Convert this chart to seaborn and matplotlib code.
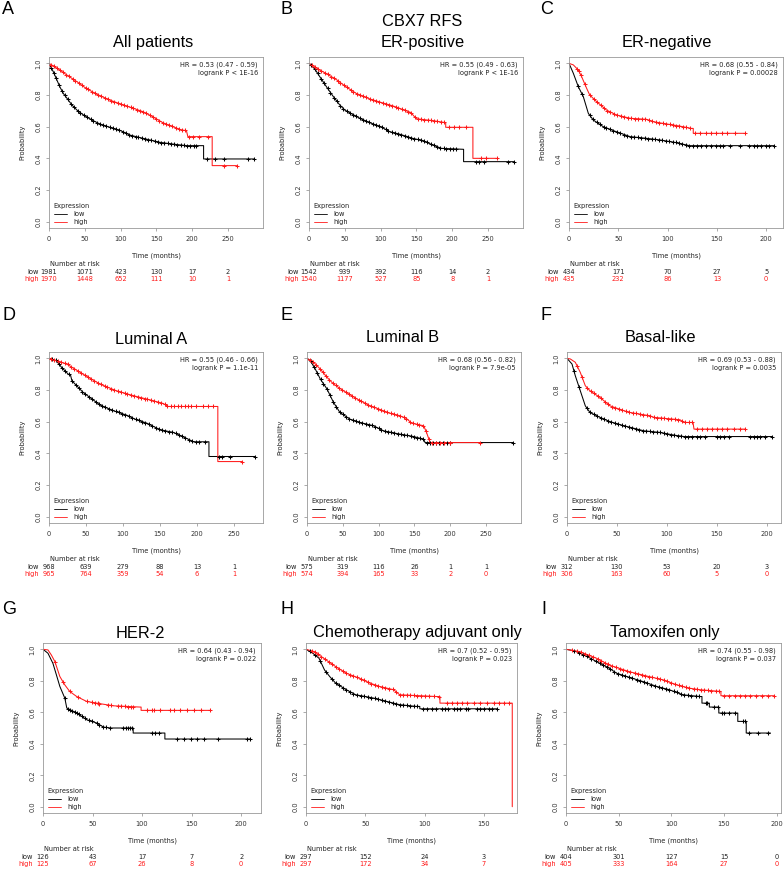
import numpy as np
import matplotlib
matplotlib.use("Agg")
import matplotlib.pyplot as plt
import matplotlib.transforms as mtransforms
from matplotlib.lines import Line2D
import seaborn as sns

# ---------------- data ----------------
TICKS_250 = [0, 50, 100, 150, 200, 250]
TICKS_200 = [0, 50, 100, 150, 200]
TICKS_150 = [0, 50, 100, 150]
Y_TICKS = [0.0, 0.2, 0.4, 0.6, 0.8, 1.0]
Y_TICK_LABELS = ["0.0", "0.2", "0.4", "0.6", "0.8", "1.0"]

# A: All patients
A_low_t = [0, 6, 11, 15, 20, 25, 32, 39, 48, 60, 71, 85, 100, 113, 127, 141, 155, 173, 192, 216, 216, 287]
A_low_s = [1, .947, .895, .853, .81, .78, .737, .705, .674, .642, .617, .596, .575, .547, .531, .516, .501, .49, .48, .48, .396, .396]
A_low_cens = [3, 7, 10, 14, 18, 22, 26, 31, 35, 40, 44, 49, 53, 58, 62, 67, 71, 76, 80, 85, 89, 94, 98, 103, 107, 112, 116,
              121, 125, 130, 134, 139, 143, 148, 152, 157, 161, 166, 170, 175, 179, 184, 188, 193, 197, 202, 206, 221, 232, 245, 278, 287]
A_high_t = [0, 15, 25, 39, 50, 66, 85, 100, 118, 131, 145, 159, 173, 185, 192, 194, 228, 228, 262]
A_high_s = [1, .958, .926, .884, .848, .806, .768, .743, .716, .695, .663, .625, .6, .579, .575, .537, .537, .354, .354]
A_high_cens = [3, 7, 11, 15, 19, 24, 28, 33, 37, 42, 46, 51, 55, 60, 64, 69, 73, 78, 82, 87, 91, 96, 100, 105, 109, 114, 118,
               123, 127, 132, 136, 141, 145, 150, 154, 159, 163, 168, 172, 177, 181, 186, 190, 196, 201, 210, 222, 245, 262]
A_risk_low = [1981, 1071, 423, 130, 17, 2]
A_risk_high = [1970, 1448, 652, 111, 10, 1]
A_hr = ["HR = 0.53 (0.47 - 0.59)", "logrank P < 1E-16"]

# B: ER-positive
B_low_t = [0, 8, 15, 25, 34, 43, 50, 71, 85, 100, 113, 127, 145, 159, 173, 185, 216, 216, 287]
B_low_s = [1, .965, .916, .848, .79, .737, .705, .653, .625, .6, .568, .552, .526, .512, .484, .463, .457, .379, .379]
B_low_cens = [3, 8, 12, 17, 21, 26, 30, 35, 39, 44, 48, 53, 57, 62, 66, 71, 75, 80, 84, 89, 93, 98, 102, 107, 111, 116, 120,
              125, 129, 134, 138, 143, 147, 152, 156, 161, 165, 170, 174, 179, 183, 188, 192, 197, 201, 206, 233, 237, 245, 278, 287]
B_high_t = [0, 15, 25, 39, 50, 66, 85, 100, 118, 136, 142, 150, 173, 191, 191, 229, 229, 262]
B_high_s = [1, .958, .933, .895, .857, .81, .775, .754, .73, .70, .69, .65, .638, .625, .596, .596, .4, .4]
B_high_cens = [4, 8, 13, 17, 22, 26, 31, 35, 40, 44, 49, 53, 58, 62, 67, 71, 76, 80, 85, 89, 94, 98, 103, 107, 112, 116, 121,
               125, 130, 134, 139, 143, 148, 152, 157, 161, 166, 170, 175, 179, 184, 188, 196, 202, 209, 220, 240, 248, 262]
B_risk_low = [1542, 939, 392, 116, 14, 2]
B_risk_high = [1540, 1177, 527, 85, 8, 1]
B_hr = ["HR = 0.55 (0.49 - 0.63)", "logrank P < 1E-16"]

# C: ER-negative
C_low_t = [0, 4.4, 9.4, 14.5, 19.6, 24.6, 34.7, 48, 62, 79, 92, 109, 122, 208]
C_low_s = [1, .937, .853, .79, .684, .642, .6, .568, .537, .526, .516, .499, .48, .48]
C_low_cens = [9, 13, 21, 24, 28, 31, 35, 38, 42, 45, 49, 52, 56, 59, 63, 66, 70, 73, 77, 80, 84, 87, 91, 94, 98, 101, 105,
              108, 112, 115, 119, 122, 126, 130, 134, 139, 144, 149, 153, 156, 163, 173, 183, 188, 191, 195, 200, 203, 208]
C_high_t = [0, 4.4, 9.4, 12.8, 17.9, 21, 28, 38, 48, 62, 79, 85, 95, 112, 124, 126, 126, 178]
C_high_s = [1, .99, .958, .916, .842, .8, .758, .705, .674, .653, .646, .632, .621, .604, .589, .589, .558, .558]
C_high_cens = [8, 10, 12, 16, 21, 25, 28, 32, 35, 39, 42, 46, 49, 53, 56, 60, 63, 67, 70, 74, 77, 81, 84, 88, 91, 95, 98,
               102, 105, 109, 112, 116, 119, 123, 128, 133, 139, 144, 149, 155, 160, 168, 178]
C_risk_low = [434, 171, 70, 27, 5]
C_risk_high = [435, 232, 86, 13, 0]
C_hr = ["HR = 0.68 (0.55 - 0.84)", "logrank P = 0.00028"]

# D: Luminal A
D_low_t = [0, 10, 17, 26, 29, 31, 46, 69, 87, 105, 118, 132, 150, 168, 186, 195, 216, 216, 278]
D_low_s = [1, .985, .943, .9, .895, .858, .785, .705, .669, .641, .612, .591, .549, .532, .494, .473, .473, .38, .38]
D_low_cens = [4, 9, 13, 18, 22, 27, 31, 36, 40, 45, 49, 54, 58, 63, 67, 72, 76, 81, 85, 90, 94, 99, 103, 108, 112, 117, 121,
              126, 130, 135, 139, 144, 148, 153, 157, 162, 166, 171, 175, 180, 184, 189, 193, 198, 203, 210, 229, 234, 244, 278]
D_high_t = [0, 24, 46, 69, 91, 114, 136, 154, 161, 228, 228, 261]
D_high_s = [1, .964, .9, .837, .795, .764, .738, .715, .696, .696, .348, .348]
D_high_cens = [3, 7, 12, 16, 21, 25, 30, 34, 39, 43, 48, 52, 57, 61, 66, 70, 75, 79, 84, 88, 93, 97, 102, 106, 111, 115, 120,
               124, 129, 133, 138, 142, 147, 151, 156, 160, 165, 169, 174, 178, 183, 188, 192, 199, 208, 215, 222, 261]
D_risk_low = [968, 639, 279, 88, 13, 1]
D_risk_high = [965, 764, 359, 54, 6, 1]
D_hr = ["HR = 0.55 (0.46 - 0.66)", "logrank P = 1.1e-11"]

# E: Luminal B
E_low_t = [0, 4.6, 11.6, 18.6, 28, 37, 46, 60, 74, 93, 107, 130, 149, 163, 165, 288]
E_low_s = [1, .985, .932, .869, .806, .722, .658, .616, .595, .574, .542, .521, .506, .489, .468, .468]
E_low_cens = [5, 10, 14, 19, 23, 28, 32, 37, 41, 46, 50, 55, 59, 64, 68, 73, 77, 82, 86, 91, 95, 100, 104, 109, 113, 118,
              122, 127, 131, 136, 140, 145, 149, 154, 158, 162, 168, 172, 176, 180, 185, 190, 195, 200, 288]
E_high_t = [0, 9.3, 18.6, 28, 37, 51, 70, 88, 98, 112, 130, 139, 146, 163, 167, 172, 242]
E_high_s = [1, .975, .932, .88, .838, .795, .743, .70, .684, .658, .637, .62, .591, .574, .532, .468, .468]
E_high_cens = [4, 9, 13, 18, 22, 27, 31, 36, 40, 45, 49, 54, 58, 63, 67, 72, 76, 81, 85, 90, 94, 99, 103, 108, 112, 117,
               121, 126, 130, 135, 139, 144, 148, 153, 157, 162, 166, 170, 175, 180, 186, 192, 200, 242]
E_risk_low = [575, 319, 116, 26, 1, 1]
E_risk_high = [574, 394, 165, 33, 2, 0]
E_hr = ["HR = 0.68 (0.56 - 0.82)", "logrank P = 7.9e-05"]

# F: Basal-like
F_low_t = [0, 5, 8.3, 13.3, 18.3, 23, 33, 43, 57, 77, 93, 107, 117, 205]
F_low_s = [1, .964, .89, .795, .70, .658, .627, .6, .574, .542, .532, .515, .506, .506]
F_low_cens = [7, 12, 20, 23, 27, 30, 34, 37, 41, 44, 48, 51, 55, 58, 62, 65, 69, 72, 76, 79, 83, 86, 90, 93, 97, 100, 104,
              107, 111, 114, 118, 121, 125, 130, 133, 138, 150, 153, 157, 162, 183, 187, 190, 193, 198, 205]
F_high_t = [0, 3.3, 8.3, 13.3, 18.3, 23, 33, 43, 57, 63, 83, 87, 113, 117, 126, 127, 178]
F_high_s = [1, .996, .975, .911, .827, .795, .753, .70, .669, .658, .637, .627, .612, .595, .595, .553, .553]
F_high_cens = [10, 15, 20, 24, 27, 31, 34, 38, 41, 45, 48, 52, 55, 59, 62, 66, 69, 73, 76, 80, 83, 87, 90, 94, 97, 101,
               104, 108, 111, 115, 118, 122, 125, 130, 135, 140, 145, 150, 155, 160, 167, 173, 178]
F_risk_low = [312, 130, 53, 20, 3]
F_risk_high = [306, 163, 60, 5, 0]
F_hr = ["HR = 0.69 (0.53 - 0.88)", "logrank P = 0.0035"]

# G: HER-2
G_low_t = [0, 5, 10, 13.5, 17, 22, 24, 34, 44, 54, 61, 68, 91, 91, 123, 123, 209]
G_low_s = [1, .975, .911, .838, .764, .69, .627, .595, .553, .532, .506, .5, .5, .468, .468, .43, .43]
G_low_cens = [22, 25, 27, 29, 32, 34, 36, 39, 42, 46, 49, 54, 57, 61, 64, 68, 81, 84, 86, 88, 90, 110, 113, 117,
              135, 142, 149, 155, 162, 177, 206, 209]
G_high_t = [0, 5, 8.4, 12, 17, 22, 27, 34, 44, 54, 71, 98, 99, 99, 169]
G_high_s = [1, .996, .964, .922, .827, .774, .732, .70, .669, .658, .641, .633, .633, .612, .612]
G_high_cens = [12, 20, 27, 35, 44, 49, 52, 56, 57, 66, 69, 76, 79, 83, 86, 89, 91, 105, 110, 112, 118, 128, 132,
               138, 145, 152, 159, 169]
G_risk_low = [126, 43, 17, 7, 2]
G_risk_high = [125, 67, 26, 8, 0]
G_hr = ["HR = 0.64 (0.43 - 0.94)", "logrank P = 0.022"]

# H: Chemotherapy adjuvant only
H_low_t = [0, 5.7, 11, 15.6, 20, 25, 34, 42, 57, 68, 79, 93, 96, 96, 161]
H_low_s = [1, .975, .943, .869, .827, .785, .743, .711, .69, .669, .648, .637, .637, .622, .622]
H_low_cens = [3, 8, 12, 17, 22, 25, 28, 31, 34, 37, 40, 43, 46, 49, 52, 55, 58, 61, 64, 67, 70, 73, 76, 79, 82, 85, 88,
              91, 94, 99, 102, 106, 110, 115, 117, 120, 125, 127, 130, 135, 137, 144, 147, 150, 154, 157, 161]
H_high_t = [0, 7, 11, 17, 25, 34, 45, 54, 62, 74, 79, 110, 113, 113, 174, 174]
H_high_s = [1, .985, .964, .932, .89, .848, .816, .785, .764, .743, .711, .70, .70, .658, .658, 0.0]
H_high_cens = [5, 8, 10, 13, 16, 19, 22, 25, 28, 31, 34, 37, 40, 43, 46, 49, 52, 55, 58, 61, 64, 67, 70, 73, 76, 79, 82,
               85, 88, 91, 94, 97, 100, 104, 108, 112, 119, 123, 127, 132, 136, 142, 147, 153, 159, 163, 167, 171]
H_risk_low = [297, 152, 24, 3]
H_risk_high = [297, 172, 34, 7]
H_hr = ["HR = 0.7 (0.52 - 0.95)", "logrank P = 0.023"]

# I: Tamoxifen only
I_low_t = [0, 8, 19, 32, 41, 48, 60, 73, 86, 98, 111, 127, 129, 129, 136, 136, 145, 145, 163, 163, 171, 171, 194]
I_low_s = [1, .99, .958, .911, .88, .848, .822, .795, .764, .743, .711, .70, .70, .658, .658, .633, .633, .595, .595,
           .542, .542, .468, .468]
I_low_cens = [8, 12, 16, 20, 24, 28, 32, 35, 39, 42, 46, 49, 53, 56, 60, 63, 67, 70, 74, 77, 81, 84, 88, 91, 95, 98, 102,
              105, 109, 112, 116, 119, 123, 126, 133, 134, 140, 144, 148, 150, 155, 160, 168, 170, 174, 182, 192]
I_high_t = [0, 13, 29, 41, 60, 76, 92, 105, 117, 127, 147, 147, 197]
I_high_s = [1, .985, .943, .9, .858, .831, .806, .774, .753, .743, .732, .705, .705]
I_high_cens = [6, 10, 14, 18, 22, 26, 30, 33, 37, 40, 44, 47, 51, 54, 58, 61, 65, 68, 72, 75, 79, 82, 86, 89, 93, 96, 100,
               103, 107, 110, 114, 117, 121, 124, 128, 131, 135, 138, 142, 145, 150, 155, 160, 165, 170, 175, 180, 186, 192, 197]
I_risk_low = [404, 301, 127, 15, 0]
I_risk_high = [405, 333, 164, 27, 0]
I_hr = ["HR = 0.74 (0.55 - 0.98)", "logrank P = 0.037"]

TITLES = ["All patients", "ER-positive", "ER-negative", "Luminal A", "Luminal B",
          "Basal-like", "HER-2", "Chemotherapy adjuvant only", "Tamoxifen only"]
MAIN_TITLE = "CBX7 RFS"
LETTERS = ["A", "B", "C", "D", "E", "F", "G", "H", "I"]

# ---------------- layout / style ----------------
W, H = 784, 869
LOW_COLOR = "#000000"
HIGH_COLOR = "#ff1a1a"
SMALL = 4.8
TXT = "#222222"

panels = [
    dict(box=(49, 57, 263, 228), title_xy=(153, 42), letter_xy=(2, 9), xmax=299, ticks=TICKS_250,
         low=(A_low_t, A_low_s, A_low_cens), high=(A_high_t, A_high_s, A_high_cens), risk=(A_risk_low, A_risk_high), hr=A_hr),
    dict(box=(309, 57, 523, 228), title_xy=(423, 42), letter_xy=(281, 9), xmax=299, ticks=TICKS_250,
         low=(B_low_t, B_low_s, B_low_cens), high=(B_high_t, B_high_s, B_high_cens), risk=(B_risk_low, B_risk_high), hr=B_hr),
    dict(box=(569, 57, 783, 228), title_xy=(667, 42), letter_xy=(540, 9), xmax=217, ticks=TICKS_200,
         low=(C_low_t, C_low_s, C_low_cens), high=(C_high_t, C_high_s, C_high_cens), risk=(C_risk_low, C_risk_high), hr=C_hr),
    dict(box=(49, 352, 263, 523), title_xy=(151, 339), letter_xy=(2, 316), xmax=289, ticks=TICKS_250,
         low=(D_low_t, D_low_s, D_low_cens), high=(D_high_t, D_high_s, D_high_cens), risk=(D_risk_low, D_risk_high), hr=D_hr),
    dict(box=(307, 352, 521, 523), title_xy=(403, 338), letter_xy=(281, 316), xmax=299, ticks=TICKS_250,
         low=(E_low_t, E_low_s, E_low_cens), high=(E_high_t, E_high_s, E_high_cens), risk=(E_risk_low, E_risk_high), hr=E_hr),
    dict(box=(567, 352, 781, 523), title_xy=(660, 338), letter_xy=(541, 316), xmax=214, ticks=TICKS_200,
         low=(F_low_t, F_low_s, F_low_cens), high=(F_high_t, F_high_s, F_high_cens), risk=(F_risk_low, F_risk_high), hr=F_hr),
    dict(box=(43, 643, 261, 813), title_xy=(140, 633), letter_xy=(2, 610), xmax=220, ticks=TICKS_200,
         low=(G_low_t, G_low_s, G_low_cens), high=(G_high_t, G_high_s, G_high_cens), risk=(G_risk_low, G_risk_high), hr=G_hr),
    dict(box=(306, 643, 517, 813), title_xy=(417, 632), letter_xy=(281, 609), xmax=178, ticks=TICKS_150,
         low=(H_low_t, H_low_s, H_low_cens), high=(H_high_t, H_high_s, H_high_cens), risk=(H_risk_low, H_risk_high), hr=H_hr),
    dict(box=(566, 643, 781, 813), title_xy=(665, 632), letter_xy=(541, 609), xmax=204, ticks=TICKS_200,
         low=(I_low_t, I_low_s, I_low_cens), high=(I_high_t, I_high_s, I_high_cens), risk=(I_risk_low, I_risk_high), hr=I_hr),
]

sns.set_style("ticks")
plt.rcParams["font.family"] = ["DejaVu Sans"]

fig = plt.figure(figsize=(W / 100, H / 100), dpi=100)
fig.patch.set_facecolor("white")


def fx(x):
    return x / W


def fy(y):
    return 1 - y / H


for i, p in enumerate(panels):
    l, t, r, b = p["box"]
    aw, ah = r - l, b - t
    ax = fig.add_axes([fx(l), fy(b), aw / W, ah / H])
    for (tt, ss, cc), col in ((p["low"], LOW_COLOR), (p["high"], HIGH_COLOR)):
        tt = np.asarray(tt, float)
        ss = np.asarray(ss, float)
        cc = np.asarray(cc, float)
        sns.lineplot(x=tt, y=ss, ax=ax, color=col, lw=0.75, estimator=None, sort=False)
        cy = np.interp(cc, tt, ss)
        sns.scatterplot(x=cc, y=cy, ax=ax, marker="+", s=12, color=col, linewidth=0.75, zorder=3)

    ax.set_xlim(0, p["xmax"])
    ax.set_ylim(-0.04, 1.04)
    ax.set_xticks(p["ticks"])
    ax.set_xticklabels([str(v) for v in p["ticks"]])
    ax.set_yticks(Y_TICKS)
    ax.set_yticklabels(Y_TICK_LABELS, rotation=90, va="center")
    ax.tick_params(length=2.5, width=0.5, color="#888888", labelsize=SMALL, labelcolor="#333333", pad=3)
    for sp in ax.spines.values():
        sp.set_visible(True)
        sp.set_color("#999999")
        sp.set_linewidth(0.6)
    ax.set_xlabel("Time (months)", fontsize=SMALL, color=TXT)
    ax.set_ylabel("Probability", fontsize=SMALL, color=TXT)
    ax.xaxis.set_label_coords(0.5, -24.5 / ah)
    ax.yaxis.set_label_coords(-23.5 / aw, 0.5)

    # HR / logrank text
    ax.text(1 - 5 / aw, 1 - 8 / ah, p["hr"][0], transform=ax.transAxes, ha="right", va="center",
            fontsize=SMALL, color=TXT)
    ax.text(1 - 5 / aw, 1 - 16 / ah, p["hr"][1], transform=ax.transAxes, ha="right", va="center",
            fontsize=SMALL, color=TXT)

    # legend
    handles = [Line2D([], [], color=LOW_COLOR, lw=0.6), Line2D([], [], color=HIGH_COLOR, lw=0.6)]
    leg = ax.legend(handles, ["low", "high"], title="Expression", loc="lower left",
                    bbox_to_anchor=(2 / aw, 0), frameon=False, fontsize=SMALL, title_fontsize=SMALL,
                    handlelength=2.0, handletextpad=0.9, labelspacing=0.3, borderpad=0.4,
                    borderaxespad=0, alignment="left")
    for txt in leg.get_texts():
        txt.set_color(TXT)
    leg.get_title().set_color(TXT)

    # titles and panel letters
    tx, ty = p["title_xy"]
    fig.text(fx(tx), fy(ty), TITLES[i], ha="center", va="center", fontsize=11.8,
             family="Liberation Sans", color="black")
    lx, ly = p["letter_xy"]
    fig.text(fx(lx), fy(ly), LETTERS[i], ha="left", va="center", fontsize=13,
             family="Liberation Sans", color="black")

    # number at risk table
    trans = mtransforms.blended_transform_factory(ax.transData, fig.transFigure)
    fig.text(fx(l + 1), fy(b + 36), "Number at risk", ha="left", va="center", fontsize=SMALL, color=TXT)
    fig.text(fx(l - 10), fy(b + 44), "low", ha="right", va="center", fontsize=SMALL, color=TXT)
    fig.text(fx(l - 10), fy(b + 51), "high", ha="right", va="center", fontsize=SMALL, color=HIGH_COLOR)
    risk_low, risk_high = p["risk"]
    for xv, n in zip(p["ticks"], risk_low):
        ax.text(xv, fy(b + 44), str(n), transform=trans, ha="center", va="center",
                fontsize=SMALL, color=TXT, clip_on=False)
    for xv, n in zip(p["ticks"], risk_high):
        ax.text(xv, fy(b + 51), str(n), transform=trans, ha="center", va="center",
                fontsize=SMALL, color=HIGH_COLOR, clip_on=False)

fig.text(fx(422), fy(21), MAIN_TITLE, ha="center", va="center", fontsize=11.8,
         family="Liberation Sans", color="black")

fig.savefig("out.png", dpi=100, facecolor="white")
